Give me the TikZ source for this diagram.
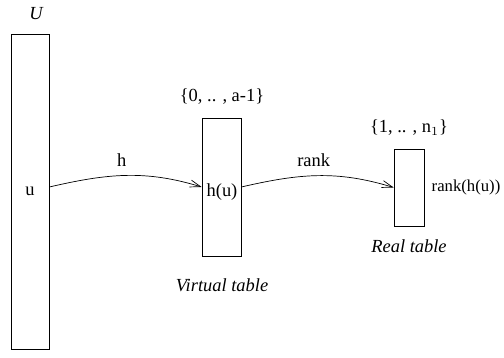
\documentclass[tikz,border=0pt]{standalone}
\usepackage{fontspec}
\setmainfont{Liberation Serif}
\usepackage{tikz}
\usetikzlibrary{arrows.meta,positioning}
\tikzstyle{tablebox} = [rectangle, draw, thin, inner sep=0pt]
\tikzstyle{line} = [draw, thin, -{Straight Barb[length=6pt,width=4pt]}]
\tikzstyle{lbl} = [inner sep=0pt, font=\fontsize{10.5}{12}\selectfont]
\tikzstyle{title} = [inner sep=0pt, font=\fontsize{10.5}{12}\selectfont\itshape]

\begin{document}
\begin{tikzpicture}[x=0.02cm, y=0.02cm]
\useasboundingbox (0,0) rectangle (504,358);

% Place nodes
\node [tablebox, minimum width=0.76cm, minimum height=6.3cm, lbl] (univ) at (30,166.5) {u};
\node [tablebox, minimum width=0.78cm, minimum height=2.76cm] (virt) at (221.5,171) {};
\node [tablebox, minimum width=0.6cm, minimum height=1.54cm] (real) at (409,170.5) {};
\node [lbl] (hval) at (222,166) {h(u)};
\node [title] (ulbl) at (36,344) {U};
\node [lbl] (vset) at (222,261) {\{0, .. , a-1\}};
\node [lbl] (rset) at (409,230) {\{1, .. , n$_1$\}};
\node [title] (vname) at (222,73) {Virtual table};
\node [title] (rname) at (409,112) {Real table};
\node [lbl, font=\fontsize{9.5}{11}\selectfont, right=4pt of real.east, anchor=west] (rval) {rank(h(u))};
% Draw edges
\path [line] ([yshift=0.09cm]univ.east) to[out=13, in=163] node [lbl, above=5pt, pos=0.47] {h} (virt.west);
\path [line] (virt.east) to[out=13, in=163] node [lbl, above=5pt, pos=0.47] {rank} (real.west);
\end{tikzpicture}
\end{document}
